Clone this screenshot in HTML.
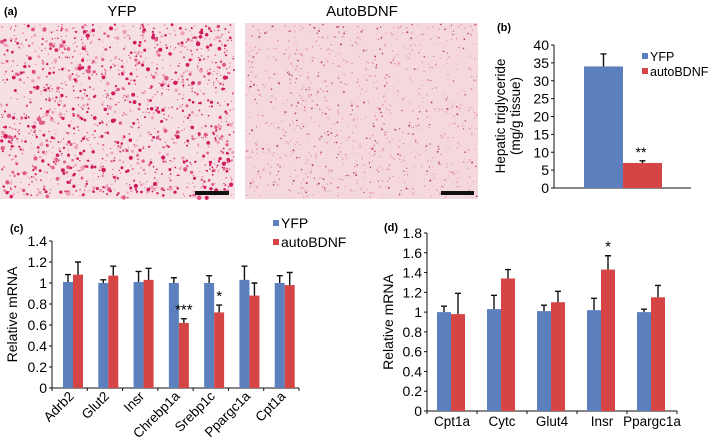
<!DOCTYPE html>
<html><head><meta charset="utf-8"><style>
html,body{margin:0;padding:0;background:#fff;width:709px;height:440px;overflow:hidden}
svg{display:block;font-family:"Liberation Sans",sans-serif}
</style></head><body>
<svg id="fig" width="709" height="440" viewBox="0 0 709 440">
<g id="panelA">
<text x="4" y="15" font-size="11" font-weight="bold">(a)</text>
<text x="122" y="16" font-size="15" text-anchor="middle">YFP</text>
<text x="362" y="16" font-size="15" text-anchor="middle">AutoBDNF</text>
<rect x="0" y="23" width="235" height="176" fill="#f6e0e4"/>
<rect x="245" y="23" width="233" height="176" fill="#f4d8de"/>
<g id="dotsA"></g>
<rect x="195" y="191" width="34" height="4" fill="#111"/>
<rect x="441" y="191" width="33" height="4" fill="#111"/>
</g>
<g id="panelB"></g>
<g id="panelC"></g>
<g id="panelD"></g>
</svg>
<script>
// Panel b data
const bGroups = ['YFP', 'autoBDNF'];
const bValues = [34, 7];
const bErrors = [3.5, 0.6];
const bTicks = [0, 5, 10, 15, 20, 25, 30, 35, 40];
// Panel c data
const cCategories = ['Adrb2', 'Glut2', 'Insr', 'Chrebp1a', 'Srebp1c', 'Ppargc1a', 'Cpt1a'];
const cYFP = [1.01, 1.0, 1.01, 1.0, 1.0, 1.03, 1.0];
const cYFPErr = [0.07, 0.03, 0.10, 0.05, 0.07, 0.13, 0.07];
const cAuto = [1.08, 1.07, 1.03, 0.62, 0.72, 0.88, 0.98];
const cAutoErr = [0.12, 0.09, 0.11, 0.04, 0.07, 0.12, 0.12];
const cStars = ['', '', '', '***', '*', '', ''];
const cTicks = ['0', '0.2', '0.4', '0.6', '0.8', '1', '1.2', '1.4'];
// Panel d data
const dCategories = ['Cpt1a', 'Cytc', 'Glut4', 'Insr', 'Ppargc1a'];
const dYFP = [1.0, 1.03, 1.01, 1.02, 1.0];
const dYFPErr = [0.06, 0.14, 0.06, 0.12, 0.03];
const dAuto = [0.98, 1.34, 1.10, 1.43, 1.15];
const dAutoErr = [0.21, 0.09, 0.11, 0.14, 0.12];
const dStars = ['', '', '', '*', ''];
const dTicks = ['0', '0.2', '0.4', '0.6', '0.8', '1', '1.2', '1.4', '1.6', '1.8'];

const NS = 'http://www.w3.org/2000/svg';
const BLUE = '#5b80bd', RED = '#d64545';
const FS = 14;
function mk(parent, tag, attrs, text) {
  const e = document.createElementNS(NS, tag);
  for (const k in attrs) e.setAttribute(k, attrs[k]);
  if (text !== undefined) e.textContent = text;
  parent.appendChild(e);
  return e;
}

// micrograph texture (deterministic)
(function(){
  const g = document.getElementById('dotsA');
  let s = 12345;
  const rnd = () => { s = (s * 1103515245 + 12345) % 2147483648; return s / 2147483648; };
  for (let i = 0; i < 1500; i++) {
    const x = 1 + rnd() * 233, y = 24 + rnd() * 174, r = 0.5 + rnd() * rnd() * 2.0;
    const q = rnd();
    const c = q < 0.45 ? '#d01c5c' : (q < 0.75 ? '#e05a88' : '#eea0b8');
    mk(g, 'circle', {cx: x.toFixed(1), cy: y.toFixed(1), r: r.toFixed(2), fill: c});
  }
  for (let i = 0; i < 1100; i++) {
    const x = 246 + rnd() * 231, y = 24 + rnd() * 174, r = 0.3 + rnd() * 0.7;
    const c = rnd() < 0.3 ? '#b84070' : '#e898b0';
    mk(g, 'circle', {cx: x.toFixed(1), cy: y.toFixed(1), r: r.toFixed(2), fill: c});
  }
  
  
})();

function legend(g, x, y1, y2, fs) {
  const r1 = mk(g, 'rect', {x: x, y: y1 - 4, width: 6, height: 6, fill: BLUE});
  
  
  const t1 = mk(g, 'text', {x: x + 8, y: y1 + 4, 'font-size': fs}, 'YFP');
  
  
  const r2 = mk(g, 'rect', {x: x, y: y2 - 4, width: 6, height: 6, fill: RED});
  
  
  const t2 = mk(g, 'text', {x: x + 8, y: y2 + 4, 'font-size': fs}, 'autoBDNF');
  
  
}

function errBar(g, cx, yTop, yVal, name) {
  const l = mk(g, 'path', {d: `M${cx},${yVal}V${yTop}M${cx - 3},${yTop}H${cx + 3}`, stroke: '#111', 'stroke-width': 1.4, fill: 'none'});
  
  
}

function axesY(g, x0, x1, yFn, ticks, fs) {
  const ax = mk(g, 'path', {d: `M${x0},${yFn(+ticks[ticks.length - 1])}V${yFn(0)}H${x1}`, stroke: '#111', 'stroke-width': 1, fill: 'none'});
  
  
  ticks.forEach(t => {
    const y = yFn(+t);
    const tk = mk(g, 'line', {x1: x0 - 3, x2: x0, y1: y, y2: y, stroke: '#111'});
    
    
    const lb = mk(g, 'text', {x: x0 - 5, y: y + 5, 'font-size': fs, 'text-anchor': 'end'}, t);
    
    
  });
}

// Panel b
(function(){
  const g = document.getElementById('panelB');
  const x0 = 554, x1 = 691, yTop = 45, yBot = 188, vmax = 40;
  const y = v => yBot - (yBot - yTop) * v / vmax;
  const lab = mk(g, 'text', {x: 497, y: 31, 'font-size': 11, 'font-weight': 'bold'}, '(b)');
  
  
  axesY(g, x0, x1, y, bTicks.map(String), FS);
  const xs = [584, 623];
  const cols = [BLUE, RED];
  bValues.forEach((v, i) => {
    const r = mk(g, 'rect', {x: xs[i], y: y(v), width: 39, height: yBot - y(v), fill: cols[i]});
    
    
    errBar(g, xs[i] + 19.5, y(v + bErrors[i]), y(v), 'error-bar-' + bGroups[i].toLowerCase());
  });
  const st = mk(g, 'text', {x: 641, y: y(bValues[1] + bErrors[1]) - 4, 'font-size': 14, 'text-anchor': 'middle'}, '**');
  
  
  const yl = mk(g, 'text', {transform: 'translate(505,116) rotate(-90)', 'font-size': 13.5, 'text-anchor': 'middle'});
  
  
  mk(yl, 'tspan', {x: 0, dy: 0}, 'Hepatic triglyceride');
  mk(yl, 'tspan', {x: 0, dy: 15}, '(mg/g tissue)');
  legend(g, 642, 57, 72, 12.5);
})();

function groupChart(id, label, lx, ly, x0, x1, yTop, yBot, ticks, cats, a, ae, b, be, stars, bw, off, rotate, ylx) {
  const g = document.getElementById(id);
  const vmax = +ticks[ticks.length - 1];
  const y = v => yBot - (yBot - yTop) * v / vmax;
  const slot = (x1 - x0) / cats.length;
  const lab = mk(g, 'text', {x: lx, y: ly, 'font-size': 11, 'font-weight': 'bold'}, label);
  
  
  axesY(g, x0, x1, y, ticks, FS);
  cats.forEach((c, i) => {
    const sx = x0 + slot * i;
    const bx = sx + off;
    const r1 = mk(g, 'rect', {x: bx, y: y(a[i]), width: bw, height: yBot - y(a[i]), fill: BLUE});
    
    
    const r2 = mk(g, 'rect', {x: bx + bw, y: y(b[i]), width: bw, height: yBot - y(b[i]), fill: RED});
    
    
    errBar(g, bx + bw / 2, y(a[i] + ae[i]), y(a[i]), 'error-bar-yfp-' + c.toLowerCase());
    errBar(g, bx + bw * 1.5, y(b[i] + be[i]), y(b[i]), 'error-bar-autobdnf-' + c.toLowerCase());
    if (stars[i]) {
      const st = mk(g, 'text', {x: bx + bw * 1.5, y: y(b[i] + be[i]) - 4, 'font-size': 15, 'text-anchor': 'middle'}, stars[i]);
      
      
    }
    const tk = mk(g, 'line', {x1: sx + slot, x2: sx + slot, y1: yBot, y2: yBot + 3, stroke: '#111'});
    
    
    let t;
    if (rotate) {
      const cx = sx + slot / 2 + 5, cy = yBot + 9;
      t = mk(g, 'text', {x: cx, y: cy, 'font-size': 13.5, 'text-anchor': 'end', transform: `rotate(-45 ${cx} ${cy})`}, c);
    } else {
      t = mk(g, 'text', {x: sx + slot / 2, y: yBot + 15, 'font-size': 13.5, 'text-anchor': 'middle'}, c);
    }
    
    
  });
  const tk0 = mk(g, 'line', {x1: x0, x2: x0, y1: yBot, y2: yBot + 3, stroke: '#111'});
  
  
  const yl = mk(g, 'text', {transform: `translate(${ylx},${(yTop + yBot) / 2}) rotate(-90)`, 'font-size': FS, 'text-anchor': 'middle'}, 'Relative mRNA');
  
  
  return g;
}

const gc = groupChart('panelC', '(c)', 10, 232, 52, 299, 241, 388, cTicks, cCategories, cYFP, cYFPErr, cAuto, cAutoErr, cStars, 10, 11, true, 17);
legend(gc, 273, 224, 243, FS);
groupChart('panelD', '(d)', 384, 231, 427, 677, 233, 411, dTicks, dCategories, dYFP, dYFPErr, dAuto, dAutoErr, dStars, 14, 10, false, 393);
</script>
</body></html>
